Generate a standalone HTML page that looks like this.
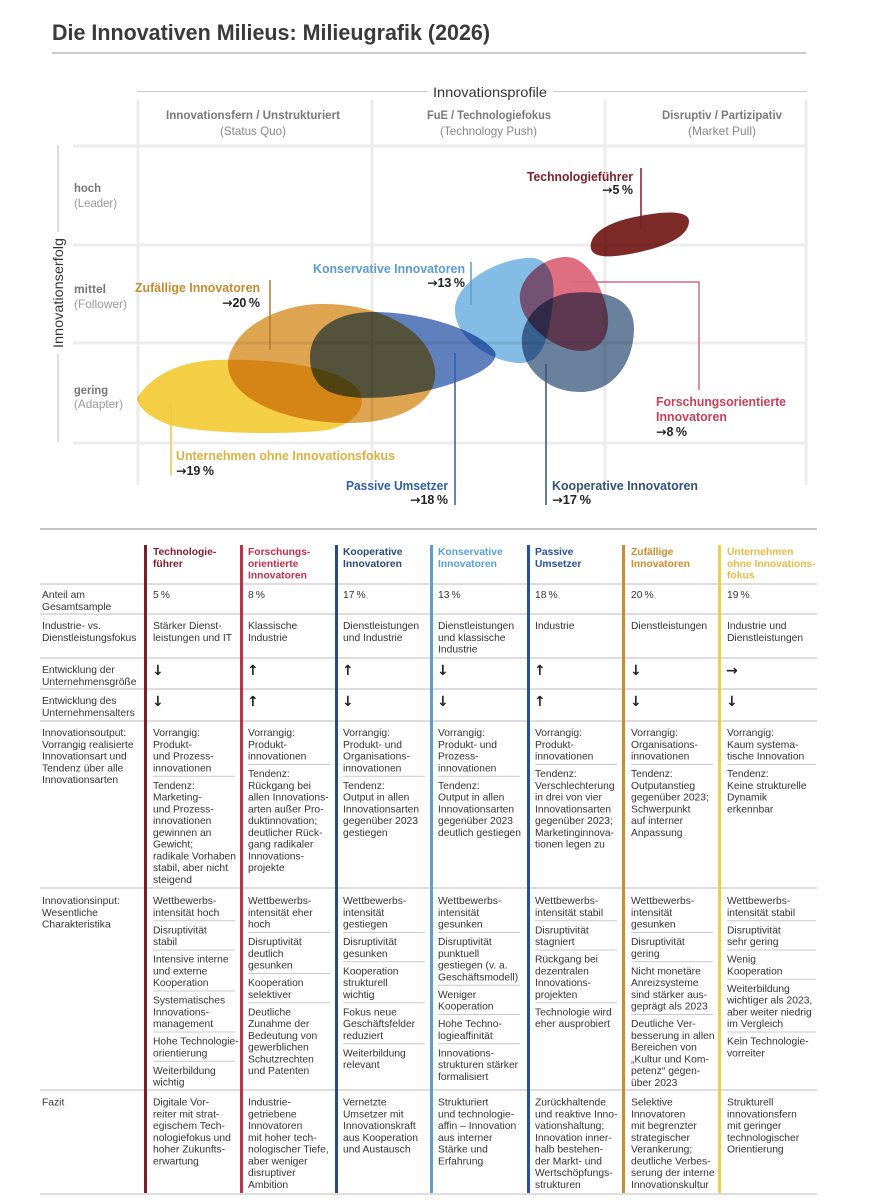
<!DOCTYPE html>
<html><head><meta charset="utf-8"><style>
html,body{margin:0;padding:0;background:#fff;}
svg{display:block;font-family:"Liberation Sans",sans-serif;}
.m{mix-blend-mode:multiply;}
.t text{font-size:10.3px;fill:#333;}
.h text{font-size:10.3px;font-weight:bold;}
.ar text{font-family:"DejaVu Sans",sans-serif;font-size:14px;font-weight:bold;fill:#222;}
.sep{stroke:#c9c9c9;stroke-width:1;}
.row{stroke:#d2d2d2;stroke-width:1.5;}
.da{font-family:"DejaVu Sans",sans-serif;}
</style></head><body>
<svg width="870" height="1200" viewBox="0 0 870 1200" xmlns="http://www.w3.org/2000/svg">
<!-- Title -->
<text x="52" y="40" font-size="22" font-weight="bold" fill="#3a3a3a" textLength="438" lengthAdjust="spacingAndGlyphs">Die Innovativen Milieus: Milieugrafik (2026)</text>
<line x1="52" y1="53" x2="806" y2="53" stroke="#bbb" stroke-width="1.5"/>

<!-- Grid -->
<g stroke="#ececec" stroke-width="3">
<line x1="138" y1="100" x2="138" y2="485"/>
<line x1="372" y1="100" x2="372" y2="485"/>
<line x1="605" y1="100" x2="605" y2="485"/>
<line x1="806" y1="100" x2="806" y2="485"/>
<line x1="73" y1="146" x2="807" y2="146"/>
<line x1="73" y1="245" x2="807" y2="245"/>
<line x1="73" y1="343" x2="807" y2="343"/>
<line x1="73" y1="443" x2="807" y2="443"/>
</g>
<line x1="137" y1="91.5" x2="428" y2="91.5" stroke="#ccc" stroke-width="1"/>
<line x1="553" y1="91.5" x2="807" y2="91.5" stroke="#ccc" stroke-width="1"/>
<text x="433" y="97" font-size="14" fill="#333" textLength="114" lengthAdjust="spacingAndGlyphs">Innovationsprofile</text>

<!-- Column headers -->
<text x="166" y="119" font-size="12" font-weight="bold" fill="#7a7a7a" textLength="174" lengthAdjust="spacingAndGlyphs">Innovationsfern / Unstrukturiert</text>
<text x="220" y="135" font-size="12" fill="#888" textLength="66" lengthAdjust="spacingAndGlyphs">(Status Quo)</text>
<text x="427" y="119" font-size="12" font-weight="bold" fill="#7a7a7a" textLength="124" lengthAdjust="spacingAndGlyphs">FuE / Technologiefokus</text>
<text x="440" y="135" font-size="12" fill="#888" textLength="97" lengthAdjust="spacingAndGlyphs">(Technology Push)</text>
<text x="662" y="119" font-size="12" font-weight="bold" fill="#7a7a7a" textLength="120" lengthAdjust="spacingAndGlyphs">Disruptiv / Partizipativ</text>
<text x="688" y="135" font-size="12" fill="#888" textLength="68" lengthAdjust="spacingAndGlyphs">(Market Pull)</text>

<!-- Row labels -->
<text x="74" y="192" font-size="12" font-weight="bold" fill="#777" textLength="27" lengthAdjust="spacingAndGlyphs">hoch</text>
<text x="74" y="207" font-size="12" fill="#999" textLength="43" lengthAdjust="spacingAndGlyphs">(Leader)</text>
<text x="74" y="293" font-size="12" font-weight="bold" fill="#777" textLength="32" lengthAdjust="spacingAndGlyphs">mittel</text>
<text x="74" y="308" font-size="12" fill="#999" textLength="53" lengthAdjust="spacingAndGlyphs">(Follower)</text>
<text x="74" y="394" font-size="12" font-weight="bold" fill="#777" textLength="34" lengthAdjust="spacingAndGlyphs">gering</text>
<text x="74" y="408" font-size="12" fill="#999" textLength="49" lengthAdjust="spacingAndGlyphs">(Adapter)</text>

<!-- Y axis -->
<line x1="58" y1="145" x2="58" y2="232" stroke="#bbb" stroke-width="1"/>
<line x1="58" y1="354" x2="58" y2="442" stroke="#bbb" stroke-width="1"/>
<text transform="translate(63,348) rotate(-90)" font-size="14" fill="#333" textLength="110" lengthAdjust="spacingAndGlyphs">Innovationserfolg</text>

<!-- Blobs -->
<path class="m" fill="#f4cf45" d="M137,398 C150,378 175,362 215,360 C280,358 345,368 360,392 C368,410 350,428 320,431 C270,435 200,433 170,425 C150,418 138,408 137,398 Z"/>
<path class="m" fill="#dc9c40" fill-opacity="0.92" d="M228,362 C232,330 275,305 320,304 C380,303 430,330 435,370 C438,405 395,423 350,423 C290,424 226,400 228,362 Z"/>
<path class="m" fill="#4168b0" fill-opacity="0.84" d="M310,357 C310,330 335,313 370,312 C420,311 480,330 495,352 C500,365 470,380 430,390 C395,398 355,402 330,392 C315,385 310,372 310,357 Z"/>
<path class="m" fill="#7cb9e4" fill-opacity="0.95" d="M455,310 C455,285 490,262 525,258 C548,255 556,275 553,300 C550,330 545,362 522,363 C495,364 455,340 455,310 Z"/>
<path class="m" fill="#dc5a70" fill-opacity="0.88" d="M520,300 C518,280 540,258 565,257 C585,256 600,280 607,310 C612,335 600,352 580,351 C555,350 522,325 520,300 Z"/>
<path class="m" fill="#5a7394" fill-opacity="0.9" d="M522,345 C520,320 540,297 570,293 C610,289 635,300 634,330 C633,365 612,392 580,392 C548,392 524,370 522,345 Z"/>
<path class="m" fill="#7d2a28" d="M591,249 C588,233 610,221 640,216 C665,211 690,210 689,222 C688,237 665,247 635,253 C610,258 594,258 591,249 Z"/>

<!-- Labels & leaders -->
<line x1="641" y1="168" x2="641" y2="229" stroke="#7a1f2a" stroke-width="1.5"/>
<text x="527" y="181" font-size="12.5" font-weight="bold" fill="#7a1f2a" textLength="106" lengthAdjust="spacingAndGlyphs">Technologieführer</text>
<text x="602" y="194" font-size="12.5" font-weight="bold" fill="#222" textLength="31" lengthAdjust="spacingAndGlyphs"><tspan class="da">→</tspan>5&#8201;%</text>

<line x1="471" y1="262" x2="471" y2="305" stroke="#5b9bd0" stroke-width="1.5"/>
<text x="313" y="273" font-size="12.5" font-weight="bold" fill="#5b9bd0" textLength="152" lengthAdjust="spacingAndGlyphs">Konservative Innovatoren</text>
<text x="427" y="287" font-size="12.5" font-weight="bold" fill="#222" textLength="38" lengthAdjust="spacingAndGlyphs"><tspan class="da">→</tspan>13&#8201;%</text>

<line x1="270" y1="280" x2="270" y2="350" stroke="#b07a2a" stroke-width="1.5"/>
<text x="135" y="292" font-size="12.5" font-weight="bold" fill="#c98a2e" textLength="125" lengthAdjust="spacingAndGlyphs">Zufällige Innovatoren</text>
<text x="222" y="307" font-size="12.5" font-weight="bold" fill="#222" textLength="38" lengthAdjust="spacingAndGlyphs"><tspan class="da">→</tspan>20&#8201;%</text>

<line x1="171" y1="403" x2="171" y2="475" stroke="#eec64a" stroke-width="1.5"/>
<text x="176" y="460" font-size="12.5" font-weight="bold" fill="#dcb040" textLength="219" lengthAdjust="spacingAndGlyphs">Unternehmen ohne Innovationsfokus</text>
<text x="176" y="475" font-size="12.5" font-weight="bold" fill="#222" textLength="38" lengthAdjust="spacingAndGlyphs"><tspan class="da">→</tspan>19&#8201;%</text>

<line x1="455" y1="353" x2="455" y2="505" stroke="#2f5ea6" stroke-width="1.5"/>
<text x="346" y="490" font-size="12.5" font-weight="bold" fill="#2f5ea6" textLength="102" lengthAdjust="spacingAndGlyphs">Passive Umsetzer</text>
<text x="410" y="504" font-size="12.5" font-weight="bold" fill="#222" textLength="38" lengthAdjust="spacingAndGlyphs"><tspan class="da">→</tspan>18&#8201;%</text>

<line x1="546" y1="364" x2="546" y2="505" stroke="#34527a" stroke-width="1.5"/>
<text x="552" y="490" font-size="12.5" font-weight="bold" fill="#34527a" textLength="146" lengthAdjust="spacingAndGlyphs">Kooperative Innovatoren</text>
<text x="552" y="504" font-size="12.5" font-weight="bold" fill="#222" textLength="39" lengthAdjust="spacingAndGlyphs"><tspan class="da">→</tspan>17&#8201;%</text>

<polyline points="570,282 699,282 699,390" fill="none" stroke="#d46a80" stroke-width="1.5"/>
<text x="656" y="406" font-size="12.5" font-weight="bold" fill="#c8405a" textLength="130" lengthAdjust="spacingAndGlyphs">Forschungsorientierte</text>
<text x="656" y="421" font-size="12.5" font-weight="bold" fill="#c8405a" textLength="71" lengthAdjust="spacingAndGlyphs">Innovatoren</text>
<text x="656" y="436" font-size="12.5" font-weight="bold" fill="#222" textLength="31" lengthAdjust="spacingAndGlyphs"><tspan class="da">→</tspan>8&#8201;%</text>

<!-- TABLE -->
<line x1="40" y1="529" x2="817" y2="529" stroke="#a0a0a0" stroke-width="1.2"/>
<g class="row">
<line x1="40" y1="584" x2="817" y2="584"/>
<line x1="40" y1="614" x2="817" y2="614"/>
<line x1="40" y1="658" x2="817" y2="658"/>
<line x1="40" y1="689" x2="817" y2="689"/>
<line x1="40" y1="721" x2="817" y2="721"/>
<line x1="40" y1="888" x2="817" y2="888"/>
<line x1="40" y1="1090" x2="817" y2="1090"/>
<line x1="40" y1="1194" x2="817" y2="1194"/>
</g>
<rect x="144" y="545" width="3" height="648" fill="#7a1f2a"/>
<rect x="240" y="545" width="3" height="648" fill="#c0304a"/>
<rect x="335" y="545" width="3" height="648" fill="#2a4a7a"/>
<rect x="430" y="545" width="3" height="648" fill="#5a9fd4"/>
<rect x="527" y="545" width="3" height="648" fill="#2a4f9a"/>
<rect x="622" y="545" width="3" height="648" fill="#d08a2a"/>
<rect x="718" y="545" width="3" height="648" fill="#f0d040"/>

<!-- header -->
<g class="h">
<text y="555" fill="#7a1f2a"><tspan x="153">Technologie-</tspan><tspan x="153" dy="11.8">führer</tspan></text>
<text y="555" fill="#c0304a"><tspan x="248">Forschungs-</tspan><tspan x="248" dy="11.8">orientierte</tspan><tspan x="248" dy="11.8">Innovatoren</tspan></text>
<text y="555" fill="#2a4a7a"><tspan x="343">Kooperative</tspan><tspan x="343" dy="11.8">Innovatoren</tspan></text>
<text y="555" fill="#5a9fd4"><tspan x="438">Konservative</tspan><tspan x="438" dy="11.8">Innovatoren</tspan></text>
<text y="555" fill="#2a4f9a"><tspan x="535">Passive</tspan><tspan x="535" dy="11.8">Umsetzer</tspan></text>
<text y="555" fill="#d08a2a"><tspan x="631">Zufällige</tspan><tspan x="631" dy="11.8">Innovatoren</tspan></text>
<text y="555" fill="#e5bd45"><tspan x="727">Unternehmen</tspan><tspan x="727" dy="11.8">ohne Innovations-</tspan><tspan x="727" dy="11.8">fokus</tspan></text>
</g>

<g class="t">
<!-- Row 1 -->
<text y="598"><tspan x="42">Anteil am</tspan><tspan x="42" dy="11.8">Gesamtsample</tspan></text>
<text x="153" y="598">5&#8201;%</text>
<text x="248" y="598">8&#8201;%</text>
<text x="343" y="598">17&#8201;%</text>
<text x="438" y="598">13&#8201;%</text>
<text x="535" y="598">18&#8201;%</text>
<text x="631" y="598">20&#8201;%</text>
<text x="727" y="598">19&#8201;%</text>

<!-- Row 2 -->
<text y="629"><tspan x="42">Industrie- vs.</tspan><tspan x="42" dy="11.8">Dienstleistungsfokus</tspan></text>
<text y="629"><tspan x="153">Stärker Dienst-</tspan><tspan x="153" dy="11.8">leistungen und IT</tspan></text>
<text y="629"><tspan x="248">Klassische</tspan><tspan x="248" dy="11.8">Industrie</tspan></text>
<text y="629"><tspan x="343">Dienstleistungen</tspan><tspan x="343" dy="11.8">und Industrie</tspan></text>
<text y="629"><tspan x="438">Dienstleistungen</tspan><tspan x="438" dy="11.8">und klassische</tspan><tspan x="438" dy="11.8">Industrie</tspan></text>
<text x="535" y="629">Industrie</text>
<text x="631" y="629">Dienstleistungen</text>
<text y="629"><tspan x="727">Industrie und</tspan><tspan x="727" dy="11.8">Dienstleistungen</tspan></text>

<!-- Row 3 -->
<text y="673"><tspan x="42">Entwicklung der</tspan><tspan x="42" dy="11.8">Unternehmensgröße</tspan></text>
<!-- Row 4 -->
<text y="704"><tspan x="42">Entwicklung des</tspan><tspan x="42" dy="11.8">Unternehmensalters</tspan></text>

<!-- Row 5 -->
<text y="736"><tspan x="42">Innovationsoutput:</tspan><tspan x="42" dy="11.75">Vorrangig realisierte</tspan><tspan x="42" dy="11.75">Innovationsart und</tspan><tspan x="42" dy="11.75">Tendenz über alle</tspan><tspan x="42" dy="11.75">Innovationsarten</tspan></text>

<text y="736"><tspan x="153">Vorrangig:</tspan><tspan x="153" dy="11.75">Produkt-</tspan><tspan x="153" dy="11.75">und Prozess-</tspan><tspan x="153" dy="11.75">innovationen</tspan></text>
<text y="788.75"><tspan x="153">Tendenz:</tspan><tspan x="153" dy="11.75">Marketing-</tspan><tspan x="153" dy="11.75">und Prozess-</tspan><tspan x="153" dy="11.75">innovationen</tspan><tspan x="153" dy="11.75">gewinnen an</tspan><tspan x="153" dy="11.75">Gewicht;</tspan><tspan x="153" dy="11.75">radikale Vorhaben</tspan><tspan x="153" dy="11.75">stabil, aber nicht</tspan><tspan x="153" dy="11.75">steigend</tspan></text>

<text y="736"><tspan x="248">Vorrangig:</tspan><tspan x="248" dy="11.75">Produkt-</tspan><tspan x="248" dy="11.75">innovationen</tspan></text>
<text y="777"><tspan x="248">Tendenz:</tspan><tspan x="248" dy="11.75">Rückgang bei</tspan><tspan x="248" dy="11.75">allen Innovations-</tspan><tspan x="248" dy="11.75">arten außer Pro-</tspan><tspan x="248" dy="11.75">duktinnovation;</tspan><tspan x="248" dy="11.75">deutlicher Rück-</tspan><tspan x="248" dy="11.75">gang radikaler</tspan><tspan x="248" dy="11.75">Innovations-</tspan><tspan x="248" dy="11.75">projekte</tspan></text>

<text y="736"><tspan x="343">Vorrangig:</tspan><tspan x="343" dy="11.75">Produkt- und</tspan><tspan x="343" dy="11.75">Organisations-</tspan><tspan x="343" dy="11.75">innovationen</tspan></text>
<text y="788.75"><tspan x="343">Tendenz:</tspan><tspan x="343" dy="11.75">Output in allen</tspan><tspan x="343" dy="11.75">Innovationsarten</tspan><tspan x="343" dy="11.75">gegenüber 2023</tspan><tspan x="343" dy="11.75">gestiegen</tspan></text>

<text y="736"><tspan x="438">Vorrangig:</tspan><tspan x="438" dy="11.75">Produkt- und</tspan><tspan x="438" dy="11.75">Prozess-</tspan><tspan x="438" dy="11.75">innovationen</tspan></text>
<text y="788.75"><tspan x="438">Tendenz:</tspan><tspan x="438" dy="11.75">Output in allen</tspan><tspan x="438" dy="11.75">Innovationsarten</tspan><tspan x="438" dy="11.75">gegenüber 2023</tspan><tspan x="438" dy="11.75">deutlich gestiegen</tspan></text>

<text y="736"><tspan x="535">Vorrangig:</tspan><tspan x="535" dy="11.75">Produkt-</tspan><tspan x="535" dy="11.75">innovationen</tspan></text>
<text y="777"><tspan x="535">Tendenz:</tspan><tspan x="535" dy="11.75">Verschlechterung</tspan><tspan x="535" dy="11.75">in drei von vier</tspan><tspan x="535" dy="11.75">Innovationsarten</tspan><tspan x="535" dy="11.75">gegenüber 2023;</tspan><tspan x="535" dy="11.75">Marketinginnova-</tspan><tspan x="535" dy="11.75">tionen legen zu</tspan></text>

<text y="736"><tspan x="631">Vorrangig:</tspan><tspan x="631" dy="11.75">Organisations-</tspan><tspan x="631" dy="11.75">innovationen</tspan></text>
<text y="777"><tspan x="631">Tendenz:</tspan><tspan x="631" dy="11.75">Outputanstieg</tspan><tspan x="631" dy="11.75">gegenüber 2023;</tspan><tspan x="631" dy="11.75">Schwerpunkt</tspan><tspan x="631" dy="11.75">auf interner</tspan><tspan x="631" dy="11.75">Anpassung</tspan></text>

<text y="736"><tspan x="727">Vorrangig:</tspan><tspan x="727" dy="11.75">Kaum systema-</tspan><tspan x="727" dy="11.75">tische Innovation</tspan></text>
<text y="777"><tspan x="727">Tendenz:</tspan><tspan x="727" dy="11.75">Keine strukturelle</tspan><tspan x="727" dy="11.75">Dynamik</tspan><tspan x="727" dy="11.75">erkennbar</tspan></text>

<!-- Row 6 -->
<text y="904"><tspan x="42">Innovationsinput:</tspan><tspan x="42" dy="11.75">Wesentliche</tspan><tspan x="42" dy="11.75">Charakteristika</tspan></text>

<!-- col1 -->
<text y="904"><tspan x="153">Wettbewerbs-</tspan><tspan x="153" dy="11.75">intensität hoch</tspan></text>
<text y="933.25"><tspan x="153">Disruptivität</tspan><tspan x="153" dy="11.75">stabil</tspan></text>
<text y="962.5"><tspan x="153">Intensive interne</tspan><tspan x="153" dy="11.75">und externe</tspan><tspan x="153" dy="11.75">Kooperation</tspan></text>
<text y="1003.5"><tspan x="153">Systematisches</tspan><tspan x="153" dy="11.75">Innovations-</tspan><tspan x="153" dy="11.75">management</tspan></text>
<text y="1044.5"><tspan x="153">Hohe Technologie-</tspan><tspan x="153" dy="11.75">orientierung</tspan></text>
<text y="1073.75"><tspan x="153">Weiterbildung</tspan><tspan x="153" dy="11.75">wichtig</tspan></text>

<!-- col2 -->
<text y="904"><tspan x="248">Wettbewerbs-</tspan><tspan x="248" dy="11.75">intensität eher</tspan><tspan x="248" dy="11.75">hoch</tspan></text>
<text y="945"><tspan x="248">Disruptivität</tspan><tspan x="248" dy="11.75">deutlich</tspan><tspan x="248" dy="11.75">gesunken</tspan></text>
<text y="986"><tspan x="248">Kooperation</tspan><tspan x="248" dy="11.75">selektiver</tspan></text>
<text y="1015.25"><tspan x="248">Deutliche</tspan><tspan x="248" dy="11.75">Zunahme der</tspan><tspan x="248" dy="11.75">Bedeutung von</tspan><tspan x="248" dy="11.75">gewerblichen</tspan><tspan x="248" dy="11.75">Schutzrechten</tspan><tspan x="248" dy="11.75">und Patenten</tspan></text>

<!-- col3 -->
<text y="904"><tspan x="343">Wettbewerbs-</tspan><tspan x="343" dy="11.75">intensität</tspan><tspan x="343" dy="11.75">gestiegen</tspan></text>
<text y="945"><tspan x="343">Disruptivität</tspan><tspan x="343" dy="11.75">gesunken</tspan></text>
<text y="974.25"><tspan x="343">Kooperation</tspan><tspan x="343" dy="11.75">strukturell</tspan><tspan x="343" dy="11.75">wichtig</tspan></text>
<text y="1015.25"><tspan x="343">Fokus neue</tspan><tspan x="343" dy="11.75">Geschäftsfelder</tspan><tspan x="343" dy="11.75">reduziert</tspan></text>
<text y="1056.25"><tspan x="343">Weiterbildung</tspan><tspan x="343" dy="11.75">relevant</tspan></text>

<!-- col4 -->
<text y="904"><tspan x="438">Wettbewerbs-</tspan><tspan x="438" dy="11.75">intensität</tspan><tspan x="438" dy="11.75">gesunken</tspan></text>
<text y="945"><tspan x="438">Disruptivität</tspan><tspan x="438" dy="11.75">punktuell</tspan><tspan x="438" dy="11.75">gestiegen (v. a.</tspan><tspan x="438" dy="11.75">Geschäftsmodell)</tspan></text>
<text y="997.75"><tspan x="438">Weniger</tspan><tspan x="438" dy="11.75">Kooperation</tspan></text>
<text y="1027"><tspan x="438">Hohe Techno-</tspan><tspan x="438" dy="11.75">logieaffinität</tspan></text>
<text y="1056.25"><tspan x="438">Innovations-</tspan><tspan x="438" dy="11.75">strukturen stärker</tspan><tspan x="438" dy="11.75">formalisiert</tspan></text>

<!-- col5 -->
<text y="904"><tspan x="535">Wettbewerbs-</tspan><tspan x="535" dy="11.75">intensität stabil</tspan></text>
<text y="933.25"><tspan x="535">Disruptivität</tspan><tspan x="535" dy="11.75">stagniert</tspan></text>
<text y="962.5"><tspan x="535">Rückgang bei</tspan><tspan x="535" dy="11.75">dezentralen</tspan><tspan x="535" dy="11.75">Innovations-</tspan><tspan x="535" dy="11.75">projekten</tspan></text>
<text y="1015.25"><tspan x="535">Technologie wird</tspan><tspan x="535" dy="11.75">eher ausprobiert</tspan></text>

<!-- col6 -->
<text y="904"><tspan x="631">Wettbewerbs-</tspan><tspan x="631" dy="11.75">intensität</tspan><tspan x="631" dy="11.75">gesunken</tspan></text>
<text y="945"><tspan x="631">Disruptivität</tspan><tspan x="631" dy="11.75">gering</tspan></text>
<text y="974.25"><tspan x="631">Nicht monetäre</tspan><tspan x="631" dy="11.75">Anreizsysteme</tspan><tspan x="631" dy="11.75">sind stärker aus-</tspan><tspan x="631" dy="11.75">geprägt als 2023</tspan></text>
<text y="1027"><tspan x="631">Deutliche Ver-</tspan><tspan x="631" dy="11.75">besserung in allen</tspan><tspan x="631" dy="11.75">Bereichen von</tspan><tspan x="631" dy="11.75">„Kultur und Kom-</tspan><tspan x="631" dy="11.75">petenz“ gegen-</tspan><tspan x="631" dy="11.75">über 2023</tspan></text>

<!-- col7 -->
<text y="904"><tspan x="727">Wettbewerbs-</tspan><tspan x="727" dy="11.75">intensität stabil</tspan></text>
<text y="933.25"><tspan x="727">Disruptivität</tspan><tspan x="727" dy="11.75">sehr gering</tspan></text>
<text y="962.5"><tspan x="727">Wenig</tspan><tspan x="727" dy="11.75">Kooperation</tspan></text>
<text y="991.75"><tspan x="727">Weiterbildung</tspan><tspan x="727" dy="11.75">wichtiger als 2023,</tspan><tspan x="727" dy="11.75">aber weiter niedrig</tspan><tspan x="727" dy="11.75">im Vergleich</tspan></text>
<text y="1044.5"><tspan x="727">Kein Technologie-</tspan><tspan x="727" dy="11.75">vorreiter</tspan></text>

<!-- Fazit -->
<text x="42" y="1105.5">Fazit</text>
<text y="1105.5"><tspan x="153">Digitale Vor-</tspan><tspan x="153" dy="11.75">reiter mit strat-</tspan><tspan x="153" dy="11.75">egischem Tech-</tspan><tspan x="153" dy="11.75">nologiefokus und</tspan><tspan x="153" dy="11.75">hoher Zukunfts-</tspan><tspan x="153" dy="11.75">erwartung</tspan></text>
<text y="1105.5"><tspan x="248">Industrie-</tspan><tspan x="248" dy="11.75">getriebene</tspan><tspan x="248" dy="11.75">Innovatoren</tspan><tspan x="248" dy="11.75">mit hoher tech-</tspan><tspan x="248" dy="11.75">nologischer Tiefe,</tspan><tspan x="248" dy="11.75">aber weniger</tspan><tspan x="248" dy="11.75">disruptiver</tspan><tspan x="248" dy="11.75">Ambition</tspan></text>
<text y="1105.5"><tspan x="343">Vernetzte</tspan><tspan x="343" dy="11.75">Umsetzer mit</tspan><tspan x="343" dy="11.75">Innovationskraft</tspan><tspan x="343" dy="11.75">aus Kooperation</tspan><tspan x="343" dy="11.75">und Austausch</tspan></text>
<text y="1105.5"><tspan x="438">Strukturiert</tspan><tspan x="438" dy="11.75">und technologie-</tspan><tspan x="438" dy="11.75">affin – Innovation</tspan><tspan x="438" dy="11.75">aus interner</tspan><tspan x="438" dy="11.75">Stärke und</tspan><tspan x="438" dy="11.75">Erfahrung</tspan></text>
<text y="1105.5"><tspan x="535">Zurückhaltende</tspan><tspan x="535" dy="11.75">und reaktive Inno-</tspan><tspan x="535" dy="11.75">vationshaltung;</tspan><tspan x="535" dy="11.75">Innovation inner-</tspan><tspan x="535" dy="11.75">halb bestehen-</tspan><tspan x="535" dy="11.75">der Markt- und</tspan><tspan x="535" dy="11.75">Wertschöpfungs-</tspan><tspan x="535" dy="11.75">strukturen</tspan></text>
<text y="1105.5"><tspan x="631">Selektive</tspan><tspan x="631" dy="11.75">Innovatoren</tspan><tspan x="631" dy="11.75">mit begrenzter</tspan><tspan x="631" dy="11.75">strategischer</tspan><tspan x="631" dy="11.75">Verankerung;</tspan><tspan x="631" dy="11.75">deutliche Verbes-</tspan><tspan x="631" dy="11.75">serung der interne</tspan><tspan x="631" dy="11.75">Innovationskultur</tspan></text>
<text y="1105.5"><tspan x="727">Strukturell</tspan><tspan x="727" dy="11.75">innovationsfern</tspan><tspan x="727" dy="11.75">mit geringer</tspan><tspan x="727" dy="11.75">technologischer</tspan><tspan x="727" dy="11.75">Orientierung</tspan></text>
</g>

<!-- arrows -->
<g class="ar">
<text x="152" y="675">↓</text>
<text x="247" y="675">↑</text>
<text x="342" y="675">↑</text>
<text x="437" y="675">↓</text>
<text x="534" y="675">↑</text>
<text x="630" y="675">↓</text>
<text x="726" y="675">→</text>
<text x="152" y="706">↓</text>
<text x="247" y="706">↑</text>
<text x="342" y="706">↓</text>
<text x="437" y="706">↓</text>
<text x="534" y="706">↑</text>
<text x="630" y="706">↓</text>
<text x="726" y="706">↓</text>
</g>

<!-- sub separators -->
<g class="sep">
<line x1="153" y1="776.3" x2="235" y2="776.3"/>
<line x1="248" y1="764.5" x2="330" y2="764.5"/>
<line x1="343" y1="776.3" x2="425" y2="776.3"/>
<line x1="438" y1="776.3" x2="520" y2="776.3"/>
<line x1="535" y1="764.5" x2="617" y2="764.5"/>
<line x1="631" y1="764.5" x2="713" y2="764.5"/>
<line x1="727" y1="764.5" x2="816" y2="764.5"/>

<line x1="153" y1="920.75" x2="235" y2="920.75"/>
<line x1="153" y1="950" x2="235" y2="950"/>
<line x1="153" y1="991" x2="235" y2="991"/>
<line x1="153" y1="1032" x2="235" y2="1032"/>
<line x1="153" y1="1061.25" x2="235" y2="1061.25"/>

<line x1="248" y1="932.5" x2="330" y2="932.5"/>
<line x1="248" y1="973.5" x2="330" y2="973.5"/>
<line x1="248" y1="1002.75" x2="330" y2="1002.75"/>

<line x1="343" y1="932.5" x2="425" y2="932.5"/>
<line x1="343" y1="961.75" x2="425" y2="961.75"/>
<line x1="343" y1="1002.75" x2="425" y2="1002.75"/>
<line x1="343" y1="1043.75" x2="425" y2="1043.75"/>

<line x1="438" y1="932.5" x2="520" y2="932.5"/>
<line x1="438" y1="985.25" x2="520" y2="985.25"/>
<line x1="438" y1="1014.5" x2="520" y2="1014.5"/>
<line x1="438" y1="1043.75" x2="520" y2="1043.75"/>

<line x1="535" y1="920.75" x2="617" y2="920.75"/>
<line x1="535" y1="950" x2="617" y2="950"/>
<line x1="535" y1="1002.75" x2="617" y2="1002.75"/>

<line x1="631" y1="932.5" x2="713" y2="932.5"/>
<line x1="631" y1="961.75" x2="713" y2="961.75"/>
<line x1="631" y1="1014.5" x2="713" y2="1014.5"/>

<line x1="727" y1="920.75" x2="816" y2="920.75"/>
<line x1="727" y1="950" x2="816" y2="950"/>
<line x1="727" y1="979.25" x2="816" y2="979.25"/>
<line x1="727" y1="1032" x2="816" y2="1032"/>
</g>
</svg>
</body></html>
